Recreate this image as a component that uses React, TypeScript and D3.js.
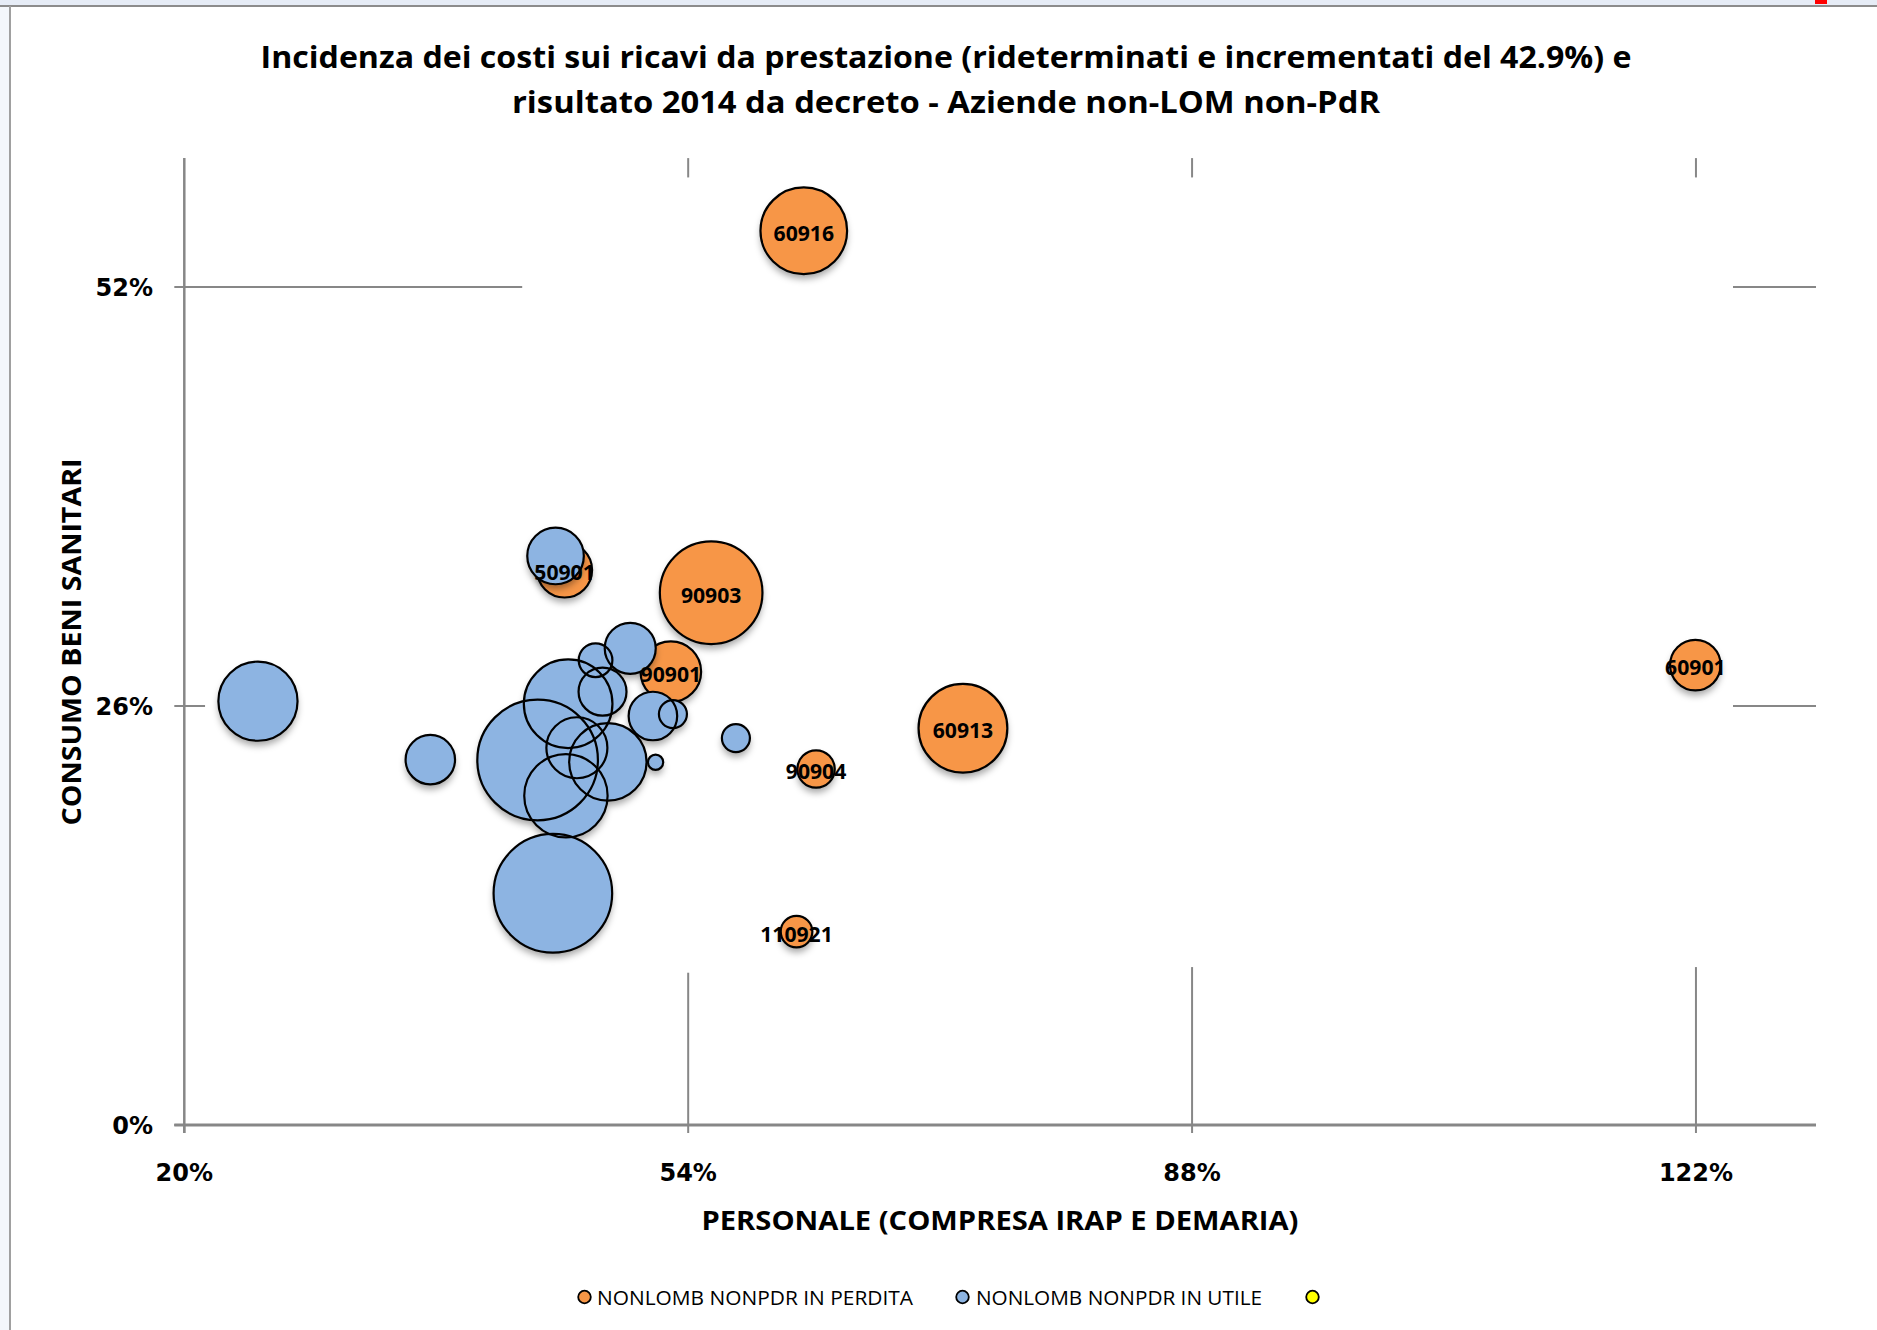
import React from "react";
import * as d3 from "d3";

// ---------- DATA ----------
const titleLines = [
  "Incidenza dei costi sui ricavi da prestazione (rideterminati e incrementati del 42.9%) e",
  "risultato 2014 da decreto - Aziende non-LOM non-PdR",
];
const xAxisTitle = "PERSONALE (COMPRESA IRAP E DEMARIA)";
const yAxisTitle = "CONSUMO BENI SANITARI";
const seriesNames = ["NONLOMB NONPDR IN PERDITA", "NONLOMB NONPDR IN UTILE", ""];

const xTicks = [20, 54, 88, 122];
const yTicks = [0, 26, 52];

// Series 1: in perdita (labelled)
const lossIds = ["60916", "50901", "90903", "90901", "60901", "60913", "90904", "110921"];
const lossX = [61.8, 45.66, 55.55, 52.83, 121.96, 72.54, 62.63, 61.31];
const lossY = [55.49, 34.44, 33.03, 28.13, 28.54, 24.62, 22.09, 12.0];
const lossSize = [51.6, 20.8, 72.4, 25.2, 17.6, 54.2, 9.6, 6.9];

// Series 2: in utile
const profitX = [24.97, 36.6, 45.05, 47.75, 50.09, 45.9, 48.22, 43.84, 46.49, 48.58, 45.75, 44.87, 51.62, 52.97, 51.8, 57.22];
const profitY = [26.3, 22.67, 35.31, 28.84, 29.58, 26.14, 26.89, 22.65, 23.41, 22.53, 20.43, 14.38, 25.38, 25.5, 22.51, 24.01];
const profitSize = [43.1, 16.8, 22.0, 7.8, 17.9, 54.0, 15.8, 100, 25.6, 41.2, 47.8, 96.7, 16.2, 5.4, 1.6, 5.4];

// Visible gridline pieces (in data units)
const hGridY = [52, 52, 26, 26];
const hGridFrom = [20, 124.5, 20, 124.5];
const hGridTo = [42.8, 130.1, 21.4, 130.1];
const vGridX = [54, 54, 88, 88, 122, 122];
const vGridFrom = [58.8, 0, 58.8, 0, 58.8, 0];
const vGridTo = [60, 9.45, 60, 9.8, 60, 9.8];

const X_MIN = 20, X_MAX = 130.1, Y_MIN = 0, Y_MAX = 60;

// ---------- STYLE ----------
const ORANGE = "#F79646";
const BLUE = "#8DB4E2";
const YELLOW = "#FFFF00";
const GRID = "#878787";
const W = 1877, H = 1330;

export default function App() {
  const x = d3.scaleLinear().domain([X_MIN, X_MAX]).range([184.3, 1816]);
  const y = d3.scaleLinear().domain([Y_MIN, Y_MAX]).range([1125, 158.1]);
  const r = d3.scaleSqrt().domain([0, 100]).range([0, 60.3]);
  const pct = (v: number) => `${v}%`;

  const loss = lossIds.map((id, i) => ({ id, x: lossX[i], y: lossY[i], s: lossSize[i] }));
  const profit = profitX.map((v, i) => ({ x: v, y: profitY[i], s: profitSize[i] }));

  const bubbleGroup = (data: { x: number; y: number; s: number }[], fill: string, key: string) => (
    <g key={key}>
      <g filter="url(#shadow)">
        {data.map((d, i) => (
          <circle key={i} cx={x(d.x)} cy={y(d.y)} r={r(d.s)} fill={fill} />
        ))}
      </g>
      <g>
        {data.map((d, i) => (
          <circle key={i} cx={x(d.x)} cy={y(d.y)} r={r(d.s)} fill="none" stroke="#000" strokeWidth={2.2} />
        ))}
      </g>
    </g>
  );

  const labelFont = "'Open Sans', 'Noto Sans', sans-serif";

  return (
    <svg
      width={W}
      height={H}
      viewBox={`0 0 ${W} ${H}`}
      style={{ position: "absolute", left: 0, top: 0, display: "block" }}
    >
      <defs>
        <filter id="shadow" x="-30%" y="-30%" width="160%" height="170%">
          <feDropShadow dx={0} dy={5} stdDeviation={3.5} floodColor="#000" floodOpacity={0.35} />
        </filter>
      </defs>
      <rect x={0} y={0} width={W} height={H} fill="#fff" />
      {/* window frame */}
      <rect x={0} y={0} width={W} height={5} fill="#E6ECF6" />
      <rect x={0} y={5} width={9} height={H - 5} fill="#F4F7FB" />
      <line x1={0} x2={W} y1={6} y2={6} stroke="#8C8C8C" strokeWidth={2} />
      <line x1={10} x2={10} y1={6} y2={H} stroke="#A0A0A0" strokeWidth={2} />
      <rect x={1815} y={0} width={12} height={4} fill="#FF0000" />

      {/* title */}
      <g fontFamily={labelFont} fontWeight={700} fontSize={31} fill="#000" textAnchor="middle">
        <text x={946} y={68} textLength={1371} lengthAdjust="spacingAndGlyphs">{titleLines[0]}</text>
        <text x={946} y={113} textLength={868} lengthAdjust="spacingAndGlyphs">{titleLines[1]}</text>
      </g>

      {/* gridline pieces */}
      <g stroke={GRID} strokeWidth={2}>
        {hGridY.map((v, i) => (
          <line key={"h" + i} x1={x(hGridFrom[i])} x2={x(hGridTo[i])} y1={y(v)} y2={y(v)} />
        ))}
        {vGridX.map((v, i) => (
          <line key={"v" + i} x1={x(v)} x2={x(v)} y1={y(vGridFrom[i])} y2={y(vGridTo[i])} />
        ))}
      </g>

      {/* axes */}
      <g stroke={GRID}>
        <line x1={x(X_MIN)} x2={x(X_MIN)} y1={y(Y_MAX)} y2={y(Y_MIN) + 8} strokeWidth={2.5} />
        <line x1={x(X_MIN) - 10} x2={x(X_MAX)} y1={y(0)} y2={y(0)} strokeWidth={3} />
        {yTicks.map((t) => (
          <line key={"yt" + t} x1={x(X_MIN) - 10} x2={x(X_MIN)} y1={y(t)} y2={y(t)} strokeWidth={2} />
        ))}
        {xTicks.map((t) => (
          <line key={"xt" + t} x1={x(t)} x2={x(t)} y1={y(0)} y2={y(0) + 8} strokeWidth={2} />
        ))}
      </g>

      {/* tick labels */}
      <g fontFamily="'DejaVu Sans', sans-serif" fontWeight={700} fontSize={24} fill="#000">
        {yTicks.map((t) => (
          <text key={"yl" + t} x={153} y={y(t) + 9} textAnchor="end">{pct(t)}</text>
        ))}
        {xTicks.map((t) => (
          <text key={"xl" + t} x={x(t)} y={1181} textAnchor="middle">{pct(t)}</text>
        ))}
      </g>

      {/* axis titles */}
      <g fontFamily={labelFont} fontWeight={700} fontSize={27} fill="#000">
        <text x={1000} y={1230} textAnchor="middle" textLength={597} lengthAdjust="spacingAndGlyphs">{xAxisTitle}</text>
        <text transform="translate(81,642) rotate(-90)" textAnchor="middle" textLength={367} lengthAdjust="spacingAndGlyphs">{yAxisTitle}</text>
      </g>

      {/* bubbles */}
      {bubbleGroup(loss, ORANGE, "loss")}
      {bubbleGroup(profit, BLUE, "profit")}

      {/* labels */}
      <g fontFamily={labelFont} fontWeight={700} fontSize={22} fill="#000" textAnchor="middle">
        {loss.map((d) => (
          <text
            key={d.id}
            x={x(d.x)}
            y={y(d.y) + 10}
            textLength={d.id.length * 12.1}
            lengthAdjust="spacingAndGlyphs"
          >
            {d.id}
          </text>
        ))}
      </g>

      {/* legend */}
      <g fontFamily={labelFont} fontSize={20} fill="#000">
        <circle cx={584.5} cy={1297} r={6.3} fill={ORANGE} stroke="#000" strokeWidth={1.8} />
        <text x={597} y={1304.5} textLength={316} lengthAdjust="spacingAndGlyphs">{seriesNames[0]}</text>
        <circle cx={962.5} cy={1297} r={6.3} fill={BLUE} stroke="#000" strokeWidth={1.8} />
        <text x={976} y={1304.5} textLength={286} lengthAdjust="spacingAndGlyphs">{seriesNames[1]}</text>
        <circle cx={1312.5} cy={1297} r={6.3} fill={YELLOW} stroke="#000" strokeWidth={1.8} />
        <text x={1326} y={1304.5}>{seriesNames[2]}</text>
      </g>
    </svg>
  );
}
